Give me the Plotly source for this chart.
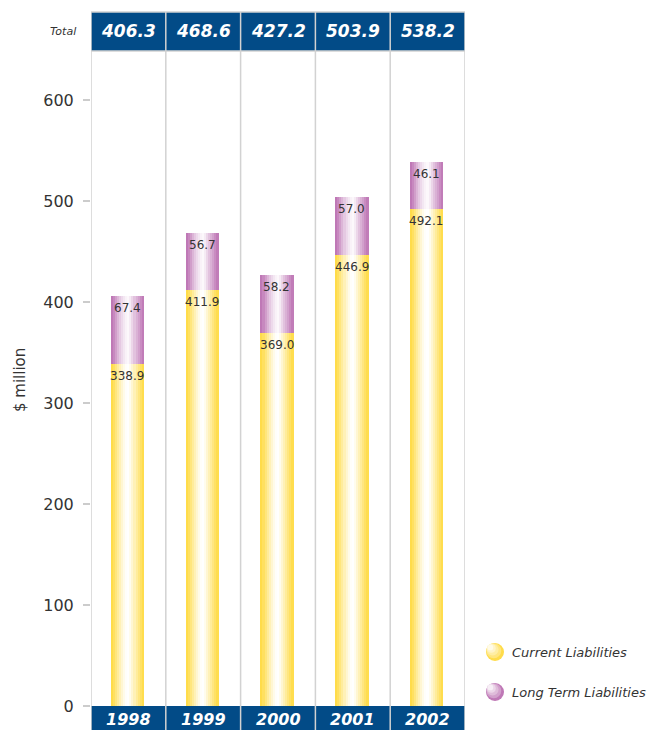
import plotly.graph_objects as go

years = ["1998", "1999", "2000", "2001", "2002"]
current = [338.9, 411.9, 369.0, 446.9, 492.1]
long_term = [67.4, 56.7, 58.2, 57.0, 46.1]
totals = [round(c + l, 1) for c, l in zip(current, long_term)]

OFF = 8  # page body margin
W, H = 655, 730
L, R, T, B = 91 - OFF, 465 - OFF, 51 - OFF, 706 - OFF  # plot area pixel bounds (figure coords)


def px_x(p):
    return (p - OFF - L) / (R - L)


def px_y(p):
    return (B - (p - OFF)) / (B - T)


def blend(hex_c, t):
    hex_c = hex_c.lstrip("#")
    r, g, b = (int(hex_c[i:i + 2], 16) for i in (0, 2, 4))
    r = round(r + (255 - r) * t)
    g = round(g + (255 - g) * t)
    b = round(b + (255 - b) * t)
    return f"rgb({r},{g},{b})"


YELLOW = "#ffdc4a"
PURPLE = "#bf78b6"
y_profile = [0.0, 0.12, 0.28, 0.45, 0.6, 0.75, 0.88, 0.97, 1.0, 0.9, 0.75, 0.6, 0.45, 0.3, 0.15, 0.02]
p_profile = [0.0, 0.12, 0.28, 0.45, 0.6, 0.72, 0.82, 0.9, 0.95, 0.85, 0.7, 0.55, 0.42, 0.3, 0.15, 0.03]

xs = list(range(len(years)))
bar_w = 0.44
start = -0.235
n = len(y_profile)
sw = bar_w / n

fig = go.Figure()
for k in range(n):
    fig.add_trace(go.Bar(
        x=xs, y=current, base=[0] * len(xs), width=sw * 1.2, offset=start + k * sw,
        marker=dict(color=blend(YELLOW, y_profile[k]), line=dict(width=0)),
        hoverinfo="skip", showlegend=False))
    fig.add_trace(go.Bar(
        x=xs, y=long_term, base=current, width=sw * 1.2, offset=start + k * sw,
        marker=dict(color=blend(PURPLE, p_profile[k]), line=dict(width=0)),
        hoverinfo="skip", showlegend=False))

shapes = []
annotations = []
top_band = px_y(12)
bot_band = px_y(740)
foot_mid = px_y(719)
# header and footer bands
shapes.append(dict(type="rect", xref="x", yref="paper", x0=-0.5, x1=4.5, y0=1, y1=top_band,
                   fillcolor="#024b87", line=dict(width=0), layer="above"))
shapes.append(dict(type="rect", xref="x", yref="paper", x0=-0.5, x1=4.5, y0=bot_band, y1=0,
                   fillcolor="#024b87", line=dict(width=0), layer="above"))
# column separators
for i in range(len(years) + 1):
    shapes.append(dict(type="line", xref="x", yref="paper", x0=i - 0.5, x1=i - 0.5,
                       y0=bot_band, y1=top_band, line=dict(color="#d2d2d2", width=1.5), layer="above"))
shapes.append(dict(type="line", xref="x", yref="paper", x0=-0.5, x1=4.5, y0=top_band, y1=top_band,
                   line=dict(color="#d2d2d2", width=1.5), layer="above"))
shapes.append(dict(type="line", xref="x", yref="paper", x0=-0.5, x1=4.5, y0=1, y1=1,
                   line=dict(color="#d2d2d2", width=1.5), layer="above"))

for i, (yr, tot, c, l) in enumerate(zip(years, totals, current, long_term)):
    annotations.append(dict(x=i, xref="x", xanchor="center", y=(1 + top_band) / 2, yref="paper",
                            yanchor="middle", text=f"{tot:.1f}",
                            showarrow=False, font=dict(family="DejaVu Sans", size=17, color="white",
                                                       weight="bold", style="italic")))
    annotations.append(dict(x=i, xref="x", xanchor="center", y=foot_mid, yref="paper",
                            yanchor="middle", text=yr,
                            showarrow=False, font=dict(family="DejaVu Sans", size=16, color="white",
                                                       weight="bold", style="italic")))
    annotations.append(dict(x=i - 0.015, xref="x", xanchor="center", y=c + l, yref="y",
                            yanchor="top", yshift=-3,
                            text=f"{l:.1f}", showarrow=False,
                            font=dict(family="DejaVu Sans", size=12, color="#333333")))
    annotations.append(dict(x=i - 0.015, xref="x", xanchor="center", y=c, yref="y",
                            yanchor="top", yshift=-3,
                            text=f"{c:.1f}", showarrow=False,
                            font=dict(family="DejaVu Sans", size=12, color="#333333")))

annotations.append(dict(x=px_x(78), xref="paper", xanchor="right", y=(1 + top_band) / 2, yref="paper",
                        yanchor="middle", text="Total", showarrow=False,
                        font=dict(family="DejaVu Sans", size=11, color="#333333", style="italic")))
annotations.append(dict(x=px_x(20), xref="paper", xanchor="center", y=px_y(380), yref="paper",
                        yanchor="middle", text="$ million",
                        textangle=-90, showarrow=False,
                        font=dict(family="DejaVu Sans", size=15, color="#333333")))

# legend
legend_items = [("Current Liabilities", YELLOW, 652), ("Long Term Liabilities", PURPLE, 692)]
for label, col, cy in legend_items:
    cx, r = 495, 9
    steps = [(0.0, 0, 0), (0.3, -1.2, -1.2), (0.5, -2.4, -2.4), (0.7, -3.6, -3.6), (0.88, -4.6, -4.6)]
    for j, (t, dx, dy) in enumerate(steps):
        rr = r * (1 - j * 0.17)
        shapes.append(dict(type="circle", xref="paper", yref="paper",
                           x0=px_x(cx + dx - rr), x1=px_x(cx + dx + rr),
                           y0=px_y(cy + dy + rr), y1=px_y(cy + dy - rr),
                           fillcolor=blend(col, t), line=dict(width=0), layer="above"))
    annotations.append(dict(x=px_x(510), xref="paper", xanchor="left", y=px_y(cy), yref="paper",
                            yanchor="middle", text=label, showarrow=False,
                            font=dict(family="DejaVu Sans", size=13, color="#333333", style="italic")))

fig.update_layout(
    width=W, height=H, barmode="overlay",
    margin=dict(l=L, r=W - R, t=T, b=H - B),
    paper_bgcolor="white", plot_bgcolor="white",
    xaxis=dict(range=[-0.5, 4.5], showticklabels=False, showgrid=False, zeroline=False,
               showline=False, ticks="", fixedrange=True),
    yaxis=dict(range=[0, (B - T) / 1.01], tickvals=[0, 100, 200, 300, 400, 500, 600],
               showgrid=False, zeroline=False, showline=False, ticks="outside", ticklen=7,
               tickcolor="#cccccc", tickwidth=1.5, ticklabelstandoff=6,
               tickfont=dict(family="DejaVu Sans", size=16, color="#333333"), fixedrange=True),
    shapes=shapes, annotations=annotations, bargap=0,
)

fig.write_html("out.html")
